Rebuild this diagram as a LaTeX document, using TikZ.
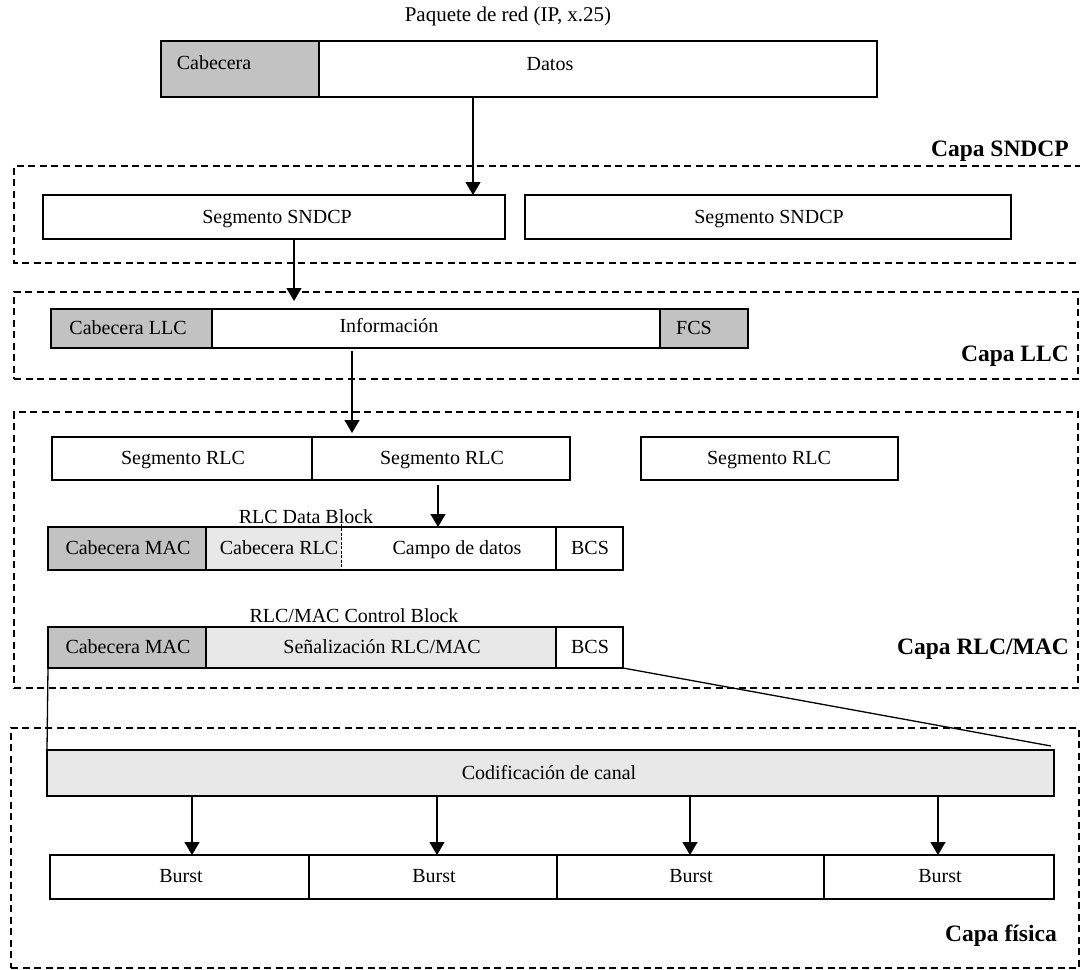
\documentclass[tikz,border=0pt]{standalone}
\usepackage{fontspec}
\setmainfont{Liberation Serif}
\usetikzlibrary{arrows.meta,fit}
\newcommand\txtfont{\fontsize{20}{24}\selectfont}
\newcommand\ttlfont{\fontsize{21}{25}\selectfont}
\newcommand\capfont{\fontsize{23.5}{28}\selectfont\bfseries}
\tikzset{
  cell/.style={draw, line width=1.3pt, inner sep=0pt, outer sep=0pt},
  plaincell/.style={inner sep=0pt, outer sep=0pt},
  darkfill/.style={fill=black!24},
  lightfill/.style={fill=black!9},
  lbl/.style={font=\txtfont, inner sep=0pt, text height=14pt, text depth=3pt},
  layername/.style={font=\capfont, anchor=east, inner sep=0pt, text height=16.5pt, text depth=3.5pt},
  framedash/.style={line width=1.2pt, dash pattern=on 7pt off 4.5pt},
  layerframe/.style={draw, framedash, inner sep=0pt, outer sep=0pt},
  flow/.style={line width=1.3pt, -{Triangle[length=13pt,width=15pt]}},
  edge/.style={line width=1.3pt},
  thindiv/.style={line width=0.7pt, dash pattern=on 3pt off 1.5pt},
}
\begin{document}
\begin{tikzpicture}[x=1pt,y=-1pt]
\useasboundingbox (0,0) rectangle (1080,970);

% ---- layer frames ----
\draw[framedash] (1082,166) -- (14,166) -- (14,263) -- (1082,263);
\node[layerframe, fit={(14,292) (1078,379)}] (llcframe) {};
\node[layerframe, fit={(14,412) (1078,688)}] (macframe) {};
\node[layerframe, fit={(11,728) (1079,968)}] (phyframe) {};

\node[layername] (capasndcp) at (1069,150) {Capa SNDCP};
\node[layername] (capallc) at (1069,355) {Capa LLC};
\node[layername] (capamac) at (1069,648) {Capa RLC/MAC};
\node[layername] (capafis) at (1057,935) {Capa física};

% ---- network packet ----
\node[lbl, font=\ttlfont, text height=15pt] (titulo) at (508,15) {Paquete de red (IP, x.25)};
\node[cell, darkfill, fit={(161,41) (319,97)}] (cab) {};
\node[cell, fit={(319,41) (877,97)}] (datos) {};
\node[lbl] at (214,64) {Cabecera};
\node[lbl] at (550,65) {Datos};

% ---- SNDCP ----
\node[cell, fit={(43,195) (505,239)}] (sndA) {};
\node[cell, fit={(525,195) (1011,239)}] (sndB) {};
\node[lbl] at (277,218) {Segmento SNDCP};
\node[lbl] at (769,218) {Segmento SNDCP};

% ---- LLC ----
\node[cell, darkfill, fit={(51,309) (212,348)}] (llchdr) {};
\node[cell, fit={(212,309) (660,348)}] (info) {};
\node[cell, darkfill, fit={(660,309) (748,348)}] (fcs) {};
\node[lbl] at (128,329) {Cabecera LLC};
\node[lbl] at (389,327) {Información};
\node[lbl] at (694,329) {FCS};

% ---- RLC segments ----
\node[cell, fit={(52,437) (312,480)}] (rlcA) {};
\node[cell, fit={(312,437) (570,480)}] (rlcB) {};
\node[cell, fit={(641,437) (898,480)}] (rlcC) {};
\node[lbl] at (183,459) {Segmento RLC};
\node[lbl] at (442,459) {Segmento RLC};
\node[lbl] at (769,459) {Segmento RLC};

% ---- RLC data block ----
\node[lbl] (dbtitle) at (306,518) {RLC Data Block};
\node[plaincell, lightfill, fit={(206,527) (341,570)}] (drlc) {};
\node[plaincell, fit={(341,527) (556,570)}] (dcampo) {};
\draw[edge] (drlc.north west) -- (dcampo.north east);
\draw[edge] (drlc.south west) -- (dcampo.south east);
\draw[thindiv] ([yshift=8pt]drlc.north east) -- (drlc.south east);
\node[cell, darkfill, fit={(48,527) (206,570)}] (dmac) {};
\node[cell, fit={(556,527) (623,570)}] (dbcs) {};
\node[lbl] at (128,549) {Cabecera MAC};
\node[lbl] at (279,549) {Cabecera RLC};
\node[lbl] at (457,549) {Campo de datos};
\node[lbl] at (590,549) {BCS};

% ---- RLC/MAC control block ----
\node[lbl] (cbtitle) at (354,617) {RLC/MAC Control Block};
\node[cell, darkfill, fit={(48,627) (206,668)}] (cmac) {};
\node[cell, lightfill, fit={(206,627) (556,668)}] (csig) {};
\node[cell, fit={(556,627) (623,668)}] (cbcs) {};
\node[lbl] at (128,648) {Cabecera MAC};
\node[lbl] at (382,648) {Señalización RLC/MAC};
\node[lbl] at (590,648) {BCS};

% ---- physical layer ----
\node[cell, lightfill, fit={(47,750) (1054,796)}] (cod) {};
\node[lbl] at (549,774) {Codificación de canal};
\draw[edge] (cmac.south west) -- (cod.north west);
\draw[edge] (cbcs.south east) -- ([xshift=-3pt,yshift=4pt]cod.north east);

\node[cell, fit={(50,855) (309,899)}] (burstA) {};
\node[cell, fit={(309,855) (557,899)}] (burstB) {};
\node[cell, fit={(557,855) (824,899)}] (burstC) {};
\node[cell, fit={(824,855) (1054,899)}] (burstD) {};
\node[lbl] at (181,877) {Burst};
\node[lbl] at (434,877) {Burst};
\node[lbl] at (691,877) {Burst};
\node[lbl] at (940,877) {Burst};

% ---- connectors ----
\coordinate (a1) at (473,0);
\coordinate (a2) at (294,301);
\coordinate (a3) at (352,433);
\coordinate (a4) at (438,0);
\coordinate (b1) at (192,0);
\coordinate (b2) at (437,0);
\coordinate (b3) at (690,0);
\coordinate (b4) at (938,0);
\draw[flow] (datos.south -| a1) -- (sndA.north -| a1);
\draw[flow] (sndA.south -| a2) -- (a2);
\draw[flow] ([yshift=-3pt]info.south -| a3) -- (a3);
\draw[flow] ([yshift=-5pt]rlcB.south -| a4) -- (dcampo.north -| a4);
\draw[flow] (cod.south -| b1) -- (burstA.north -| b1);
\draw[flow] (cod.south -| b2) -- (burstB.north -| b2);
\draw[flow] (cod.south -| b3) -- (burstC.north -| b3);
\draw[flow] (cod.south -| b4) -- (burstD.north -| b4);
\end{tikzpicture}
\end{document}
